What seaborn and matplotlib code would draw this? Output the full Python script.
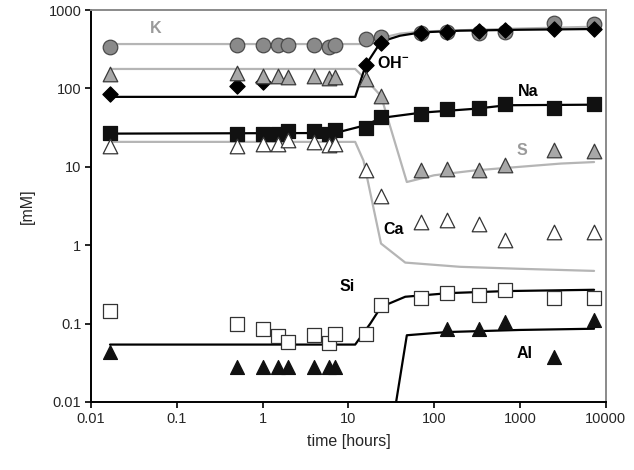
import numpy as np
import pandas as pd
import matplotlib
matplotlib.use('Agg')
import matplotlib.pyplot as plt
import seaborn as sns
from matplotlib.ticker import FixedLocator, FixedFormatter, NullLocator

# sampling times [hours]
time_h = [1 / 60, 0.5, 1, 1.5, 2, 4, 6, 7, 16, 24, 70, 140, 336, 672, 2500, 7300]

# measured concentrations [mM] (NaN = not shown)
k_meas = [334, 357, 360, 360, 362, 362, 340, 355, 426, 457, 504, 519, 505, 529, 675, 662]
oh_meas = [84, 107, 122, np.nan, np.nan, np.nan, np.nan, np.nan, 199, 375, 504, 528, 545, 556, 572, 572]
s_meas = [152, 158, 144, 144, 141, 144, 134, 141, 130, 80, 9.0, 9.4, 9.0, 10.4, 16.3, 15.7]
na_meas = [27.3, 26, 26.5, 26, 28.7, 28.7, 26.5, 29.3, 31.6, 43.3, 47.6, 54, 55.7, 62.7, 55.7, 62.7]
ca_meas = [18.5, 18.5, 19.8, 19.8, 21.8, 20.8, 19, 19.5, 9.2, 4.2, 2.0, 2.1, 1.86, 1.18, 1.49, 1.49]
si_meas = [0.145, 0.1, 0.086, 0.069, 0.058, 0.071, 0.057, 0.073, 0.073, 0.175, 0.215, 0.246, 0.23, 0.267, 0.215, 0.215]
al_meas = [0.0435, 0.028, 0.028, 0.028, 0.028, 0.028, 0.028, 0.028, np.nan, np.nan, np.nan, 0.086, 0.086, 0.105, 0.037, 0.11]

# modelled curves (time, value)
k_model_t = [1 / 60, 14, 24, 40, 70, 140, 700, 2500, 7300]
k_model = [368, 368, 440, 500, 530, 545, 575, 595, 612]
oh_model_t = [1 / 60, 12, 16, 24, 40, 70, 200, 1000, 7300]
oh_model = [78, 78, 200, 395, 470, 518, 545, 560, 572]
s_model_t = [1 / 60, 12, 16, 24, 48, 100, 300, 1000, 3000, 7300]
s_model = [177, 177, 130, 80, 6.4, 7.8, 9, 10, 11, 11.5]
na_model_t = [1 / 60, 7, 16, 24, 70, 300, 700, 7300]
na_model = [26.5, 27, 34, 42, 49, 55, 61, 62]
ca_model_t = [1 / 60, 12, 15, 24, 46, 200, 1000, 7300]
ca_model = [20.8, 20.8, 12, 1.05, 0.6, 0.53, 0.5, 0.47]
si_model_t = [1 / 60, 12, 18, 24, 46, 150, 700, 7300]
si_model = [0.054, 0.054, 0.1, 0.163, 0.22, 0.245, 0.26, 0.27]
al_model_t = [36, 48, 140, 1000, 7300]
al_model = [0.01, 0.071, 0.078, 0.083, 0.086]

LIGHT = '#b5b5b5'

sns.set_style('ticks')
plt.rcParams['font.family'] = ['Liberation Sans', 'DejaVu Sans']
plt.rcParams['mathtext.fontset'] = 'custom'
plt.rcParams['mathtext.rm'] = 'Liberation Sans:bold'

fig = plt.figure(figsize=(6.34, 4.70), dpi=100)
ax = fig.add_axes([0.1435, 0.1447, 0.812, 0.834])

# model lines
for t, v, c in [(k_model_t, k_model, LIGHT), (s_model_t, s_model, LIGHT),
                (ca_model_t, ca_model, LIGHT), (oh_model_t, oh_model, 'black'),
                (na_model_t, na_model, 'black'), (si_model_t, si_model, 'black'),
                (al_model_t, al_model, 'black')]:
    sns.lineplot(x=t, y=v, color=c, linewidth=1.6, ax=ax, zorder=1, sort=False)

# measurements
series = [
    (k_meas, 'o', '#8a8a8a', '#4a4a4a', 110),
    (oh_meas, 'D', 'black', 'black', 60),
    (s_meas, '^', '#a8a8a8', '#3a3a3a', 110),
    (na_meas, 's', '#111111', '#111111', 95),
    (ca_meas, '^', 'white', '#333333', 110),
    (si_meas, 's', 'white', '#333333', 95),
    (al_meas, '^', '#111111', '#111111', 100),
]
for i, (vals, m, fc, ec, s) in enumerate(series):
    df = pd.DataFrame({'time': time_h, 'conc': vals}).dropna()
    sns.scatterplot(data=df, x='time', y='conc', marker=m, s=s, color=fc,
                    edgecolor=ec, linewidth=0.9, ax=ax, zorder=3 + i)

ax.set_xscale('log')
ax.set_yscale('log')
ax.set_xlim(0.01, 10000)
ax.set_ylim(0.01, 1000)

xt = [0.01, 0.1, 1, 10, 100, 1000, 10000]
yt = [0.01, 0.1, 1, 10, 100, 1000]
ax.xaxis.set_major_locator(FixedLocator(xt))
ax.xaxis.set_major_formatter(FixedFormatter(['0.01', '0.1', '1', '10', '100', '1000', '10000']))
ax.yaxis.set_major_locator(FixedLocator(yt))
ax.yaxis.set_major_formatter(FixedFormatter(['0.01', '0.1', '1', '10', '100', '1000']))
ax.xaxis.set_minor_locator(NullLocator())
ax.yaxis.set_minor_locator(NullLocator())
ax.tick_params(axis='both', labelsize=10.5, length=4, width=1.2, color='black', pad=3)

for side in ['left', 'bottom']:
    ax.spines[side].set_color('black')
    ax.spines[side].set_linewidth(1.4)
for side in ['top', 'right']:
    ax.spines[side].set_color('#8a8a8a')
    ax.spines[side].set_linewidth(1.4)

ax.set_xlabel('time [hours]', fontsize=11.5, labelpad=6)
ax.set_ylabel('[mM]', fontsize=11.5, labelpad=10)

# species labels
lab = dict(fontsize=11.5, fontweight='bold', ha='center', va='center')
ax.text(0.057, 583, 'K', color='#9a9a9a', **lab)
ax.text(33, 208, r'OH$^{-}$', color='black', **lab)
ax.text(1240, 92, 'Na', color='black', **lab)
ax.text(1040, 16, 'S', color='#9a9a9a', **lab)
ax.text(34, 1.59, 'Ca', color='black', **lab)
ax.text(9.7, 0.293, 'Si', color='black', **lab)
ax.text(1125, 0.041, 'Al', color='black', **lab)

fig.savefig('out.png', dpi=100)
